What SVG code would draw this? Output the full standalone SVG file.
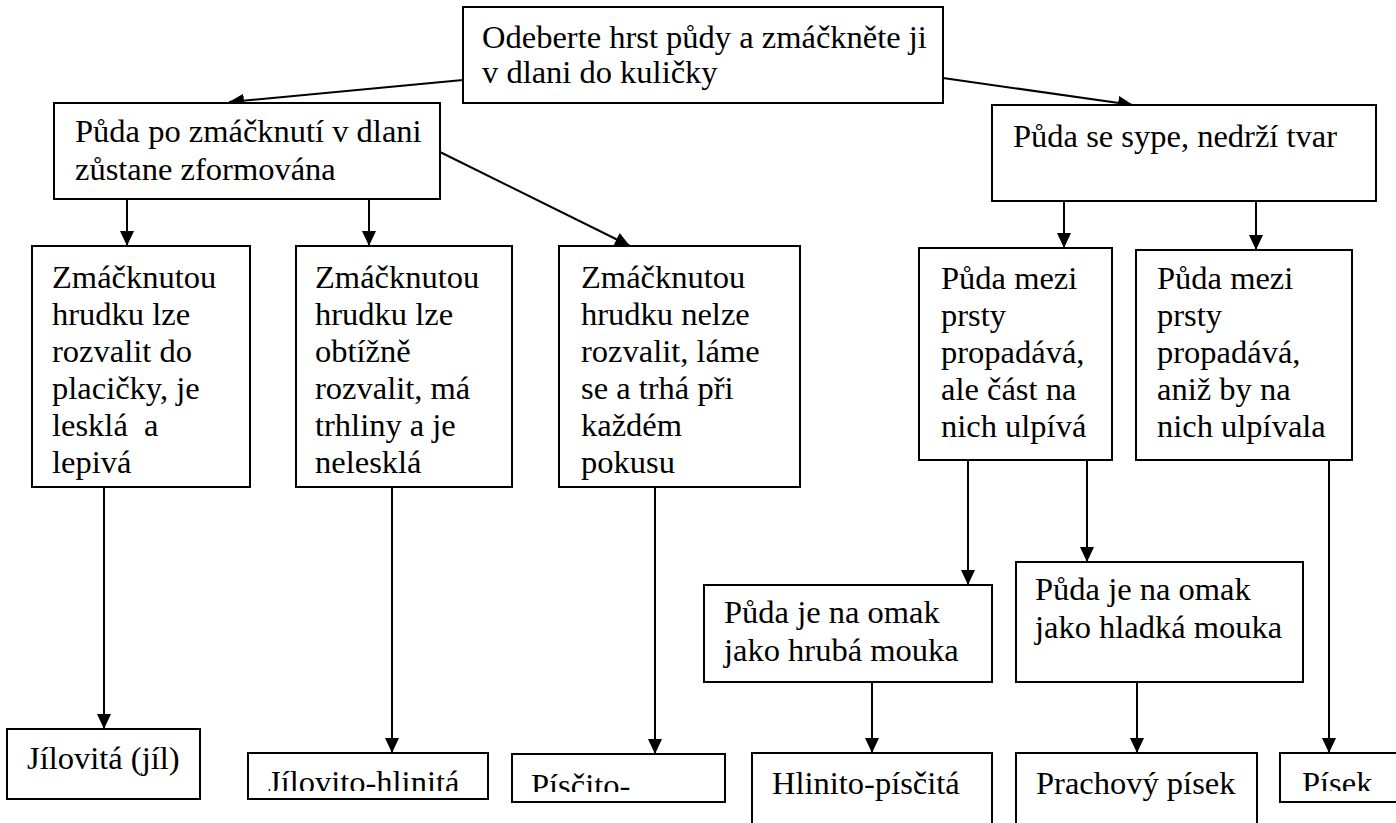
<svg xmlns="http://www.w3.org/2000/svg" width="1396" height="823" viewBox="0 0 1396 823">
<style>
.box{fill:#fff;stroke:#000;stroke-width:2}
.t{font-family:"Liberation Serif","Times New Roman",serif;font-size:32.5px;fill:#000}
.c{stroke:#000;stroke-width:2;fill:none;marker-end:url(#ah)}
</style>
<defs>
<marker id="ah" markerWidth="14" markerHeight="15" refX="15" refY="7" orient="auto" markerUnits="userSpaceOnUse"><path d="M0,0 L15,7 L0,14 z" fill="#000"/></marker>
<clipPath id="cF2"><rect x="248" y="753" width="240" height="38"/></clipPath>
<clipPath id="cF3"><rect x="512" y="754" width="213" height="38"/></clipPath>
<clipPath id="cF6"><rect x="1280" y="753" width="116" height="38"/></clipPath>
</defs>
<rect width="1396" height="823" fill="#fff"/>
<g id="connectors">
<line class="c" x1="463" y1="80" x2="229" y2="102"/>
<line class="c" x1="943" y1="78" x2="1133" y2="105"/>
<line class="c" x1="127" y1="199" x2="127" y2="246"/>
<line class="c" x1="369" y1="199" x2="369" y2="246"/>
<line class="c" x1="440" y1="152" x2="630" y2="246"/>
<line class="c" x1="1064" y1="201" x2="1064" y2="248"/>
<line class="c" x1="1256" y1="201" x2="1256" y2="250"/>
<line class="c" x1="968" y1="460" x2="968" y2="585"/>
<line class="c" x1="1087" y1="460" x2="1087" y2="562"/>
<line class="c" x1="1329" y1="460" x2="1329" y2="753"/>
<line class="c" x1="104" y1="487" x2="104" y2="729"/>
<line class="c" x1="392" y1="487" x2="392" y2="753"/>
<line class="c" x1="655" y1="487" x2="655" y2="754"/>
<line class="c" x1="872" y1="682" x2="872" y2="753"/>
<line class="c" x1="1137" y1="682" x2="1137" y2="753"/>
</g>
<g id="n-top"><rect class="box" x="463" y="7" width="480" height="96"/>
<text class="t" x="482" y="48">Odeberte hrst půdy a zmáčkněte ji</text>
<text class="t" x="482" y="83">v dlani do kuličky</text></g>
<g id="n-a"><rect class="box" x="54" y="103" width="386" height="96"/>
<text class="t" x="75" y="142">Půda po zmáčknutí v dlani</text>
<text class="t" x="75" y="180">zůstane zformována</text></g>
<g id="n-b"><rect class="box" x="992" y="105" width="384" height="96"/>
<text class="t" x="1013" y="147">Půda se sype, nedrží tvar</text></g>
<g id="n-c1"><rect class="box" x="32" y="246" width="218" height="241"/>
<text class="t" x="52" y="288">Zmáčknutou</text>
<text class="t" x="52" y="325">hrudku lze</text>
<text class="t" x="52" y="362">rozvalit do</text>
<text class="t" x="52" y="399">placičky, je</text>
<text class="t" x="52" y="436" xml:space="preserve">lesklá  a</text>
<text class="t" x="52" y="473">lepivá</text></g>
<g id="n-c2"><rect class="box" x="296" y="246" width="216" height="241"/>
<text class="t" x="315" y="288">Zmáčknutou</text>
<text class="t" x="315" y="325">hrudku lze</text>
<text class="t" x="315" y="362">obtížně</text>
<text class="t" x="315" y="399">rozvalit, má</text>
<text class="t" x="315" y="436">trhliny a je</text>
<text class="t" x="315" y="473">nelesklá</text></g>
<g id="n-c3"><rect class="box" x="559" y="246" width="241" height="241"/>
<text class="t" x="581" y="288">Zmáčknutou</text>
<text class="t" x="581" y="325">hrudku nelze</text>
<text class="t" x="581" y="362">rozvalit, láme</text>
<text class="t" x="581" y="399">se a trhá při</text>
<text class="t" x="581" y="436">každém</text>
<text class="t" x="581" y="473">pokusu</text></g>
<g id="n-d1"><rect class="box" x="919" y="248" width="193" height="212"/>
<text class="t" x="941" y="289">Půda mezi</text>
<text class="t" x="941" y="326">prsty</text>
<text class="t" x="941" y="363">propadává,</text>
<text class="t" x="941" y="400">ale část na</text>
<text class="t" x="941" y="437">nich ulpívá</text></g>
<g id="n-d2"><rect class="box" x="1136" y="250" width="216" height="210"/>
<text class="t" x="1157" y="289">Půda mezi</text>
<text class="t" x="1157" y="326">prsty</text>
<text class="t" x="1157" y="363">propadává,</text>
<text class="t" x="1157" y="400">aniž by na</text>
<text class="t" x="1157" y="437">nich ulpívala</text></g>
<g id="n-e1"><rect class="box" x="704" y="585" width="288" height="97"/>
<text class="t" x="724" y="623">Půda je na omak</text>
<text class="t" x="724" y="661">jako hrubá mouka</text></g>
<g id="n-e2"><rect class="box" x="1016" y="562" width="287" height="120"/>
<text class="t" x="1035" y="600">Půda je na omak</text>
<text class="t" x="1035" y="638">jako hladká mouka</text></g>
<g id="n-f1"><rect class="box" x="7" y="729" width="193" height="70"/>
<text class="t" x="27" y="769">Jílovitá (jíl)</text></g>
<g id="n-f2"><rect class="box" x="248" y="753" width="240" height="46"/>
<text class="t" x="268" y="793" clip-path="url(#cF2)">Jílovito-hlinitá</text></g>
<g id="n-f3"><rect class="box" x="512" y="754" width="213" height="48"/>
<text class="t" x="531" y="796" clip-path="url(#cF3)">Písčito-</text></g>
<g id="n-f4"><rect class="box" x="752" y="753" width="240" height="90"/>
<text class="t" x="772" y="794">Hlinito-písčitá</text></g>
<g id="n-f5"><rect class="box" x="1016" y="753" width="241" height="90"/>
<text class="t" x="1036" y="794">Prachový písek</text></g>
<g id="n-f6"><rect class="box" x="1280" y="753" width="130" height="49"/>
<text class="t" x="1302" y="794" clip-path="url(#cF6)">Písek</text></g>
</svg>
